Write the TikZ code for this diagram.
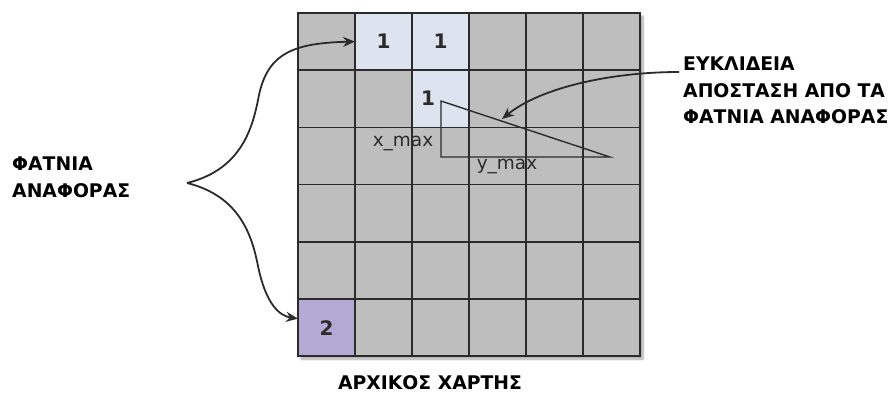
\documentclass[tikz,border=0pt]{standalone}
\usepackage{fontspec}
\setmainfont{DejaVu Sans}
\usetikzlibrary{arrows.meta,shadows.blur}
\definecolor{cellgray}{HTML}{BEBEBE}
\definecolor{reflight}{HTML}{DDE3EF}
\definecolor{refdark}{HTML}{B4A8D4}
\definecolor{ink}{HTML}{2B2B2B}

\begin{document}
\begin{tikzpicture}[x=1pt,y=-1pt]
      \useasboundingbox (0,0) rectangle (890,394);
      \tikzset{C/.style = {shape=rectangle, draw=ink, line width=1.6pt, fill=cellgray, minimum width=57pt, minimum height=57.2pt, inner sep=0pt, outer sep=0pt, text=ink, font=\bfseries\fontsize{20}{22}\selectfont}}
      \tikzset{E/.style = {draw=ink, line width=1.8pt, -{Stealth[length=12pt,width=10pt]}}}
      \tikzset{L/.style = {align=left, inner sep=0pt, text=black, font=\bfseries\fontsize{18.8}{26.5}\selectfont}}
      % map with its shadow
      \path[blur shadow={shadow xshift=3pt, shadow yshift=-3pt, shadow blur steps=6, shadow opacity=35}] (298,13) rectangle (640,356);
      \foreach \r in {0,...,5}
        \foreach \c in {0,...,5}
          \node[C](c\r\c) at ({326.5+57*\c},{41.6+57.2*\r}) {};
      % reference cells
      \node[C,fill=reflight](ra) at (c01) {1};
      \node[C,fill=reflight](rb) at (c02) {1};
      \node[C,fill=reflight](rc) at (c12) {};
      \node[text=ink,font=\bfseries\fontsize{20}{22}\selectfont](one) at (428,98) {1};
      \node[C,fill=refdark](rd) at (c50) {2};
      % distance triangle
      \coordinate (ta) at (441,101);
      \coordinate (tb) at (441,157);
      \coordinate (tc) at (610,157);
      \draw[ink,line width=1.4pt] (ta) -- (tb) -- (tc) -- cycle;
      \node[text=ink,font=\fontsize{18.5}{20}\selectfont](xm) at (403,143) {x\_max};
      \node[text=ink,font=\fontsize{18.5}{20}\selectfont](ym) at (507,166) {y\_max};
      % labels
      \node[L,anchor=north west](refs) at (12,157) {ΦΑΤΝΙΑ\\ΑΝΑΦΟΡΑΣ};
      \node[L,anchor=north west](dist) at (683,57) {ΕΥΚΛΙΔΕΙΑ\\ΑΠΟΣΤΑΣΗ ΑΠΟ ΤΑ\\ΦΑΤΝΙΑ ΑΝΑΦΟΡΑΣ};
      \node[L](map) at (430,383) {ΑΡΧΙΚΟΣ ΧΑΡΤΗΣ};
      % arrows
      \coordinate (tip) at (187,183);
      \coordinate (dst) at (679,72);
      \coordinate (hyp) at (502,119);
      \draw[E] (tip) .. controls (240,170) and (252,130) .. (258,100) .. controls (266,55) and (290,43) .. (c01.west);
      \draw[E] (tip) .. controls (240,196) and (252,236) .. (258,266) .. controls (266,305) and (280,316) .. ([yshift=9pt]c50.west);
      \draw[E] (dst) .. controls (610,72) and (540,88) .. (hyp);
    \end{tikzpicture}
\end{document}
